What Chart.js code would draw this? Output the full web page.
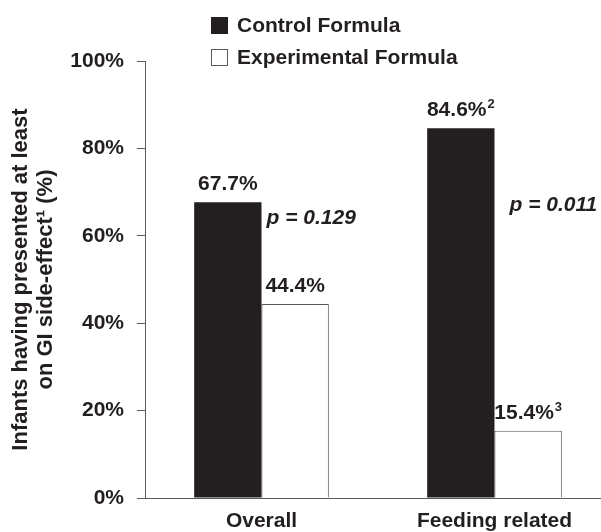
<!DOCTYPE html>
<html>
<head>
<meta charset="utf-8">
<script src="https://cdn.jsdelivr.net/npm/chart.js@4/dist/chart.umd.min.js"></script>
<style>
  html, body { margin: 0; padding: 0; background: #fff; overflow: hidden; }
  #wrap { width: 601px; height: 532px; overflow: hidden; }
  canvas { display: block; }
</style>
</head>
<body>
<div id="wrap"><canvas id="c" width="611" height="532"></canvas></div>
<script>
// Categories and series
const categories = ['Overall', 'Feeding related'];
const seriesNames = ['Control Formula', 'Experimental Formula'];
const controlValues = [67.7, 84.6];
const experimentalValues = [44.4, 15.4];
// Footnote markers printed after each bar's value
const controlNotes = ['', '2'];
const experimentalNotes = ['', '3'];
const pValues = ['0.129', '0.011'];
const yTicks = [0, 20, 40, 60, 80, 100];
const yTitle = ['Infants having presented at least', 'on GI side-effect¹ (%)'];

const INK = '#231f20';
const AXIS = '#5a5a5a';
const FONT = '"Liberation Sans", Arial, Helvetica, sans-serif';
const MAIN = 'bold 21px ' + FONT;
const SUP = 'bold 13px ' + FONT;

const overlay = {
  id: 'overlay',
  afterDatasetsDraw(chart) {
    const ctx = chart.ctx;
    const y = chart.scales.y;
    ctx.save();
    ctx.fillStyle = INK;
    ctx.textBaseline = 'alphabetic';
    ctx.textAlign = 'left';
    const notes = [controlNotes, experimentalNotes];
    // value labels above bars, with optional superscript marker
    chart.data.datasets.forEach((ds, di) => {
      const meta = chart.getDatasetMeta(di);
      meta.data.forEach((bar, i) => {
        const txt = ds.data[i].toFixed(1) + '%';
        const note = notes[di][i];
        ctx.font = MAIN;
        const w1 = ctx.measureText(txt).width;
        ctx.font = SUP;
        const w2 = note ? ctx.measureText(note).width + 1 : 0;
        const x0 = bar.x - (w1 + w2) / 2;
        const base = bar.y - 12;
        ctx.font = MAIN;
        ctx.fillText(txt, x0, base);
        if (note) {
          ctx.font = SUP;
          ctx.fillText(note, x0 + w1 + 1, base - 8);
        }
      });
    });
    // p-values beside each pair
    ctx.font = 'italic ' + MAIN;
    ctx.textBaseline = 'middle';
    const ctrl = chart.getDatasetMeta(0).data;
    const pLevels = [64, 67];
    const pOffsets = [5, 15];
    pValues.forEach((p, i) => {
      const b = ctrl[i];
      ctx.fillText('p = ' + p, b.x + b.width / 2 + pOffsets[i], y.getPixelForValue(pLevels[i]));
    });
    // legend
    ctx.font = MAIN;
    const lx = 211, ly = [25, 57];
    chart.data.datasets.forEach((ds, di) => {
      ctx.fillStyle = ds.backgroundColor;
      ctx.fillRect(lx, ly[di] - 8, 17, 17);
      ctx.strokeStyle = di === 0 ? INK : AXIS;
      ctx.lineWidth = 1;
      ctx.strokeRect(lx + 0.5, ly[di] - 7.5, 16, 16);
      ctx.fillStyle = INK;
      ctx.fillText(ds.label, lx + 26, ly[di] + 1);
    });
    ctx.restore();
  }
};

new Chart(document.getElementById('c'), {
  type: 'bar',
  data: {
    labels: categories,
    datasets: [
      {
        label: seriesNames[0],
        data: controlValues,
        backgroundColor: INK,
        borderColor: INK,
        borderWidth: 0,
        categoryPercentage: 0.578,
        barPercentage: 1.0
      },
      {
        label: seriesNames[1],
        data: experimentalValues,
        backgroundColor: '#ffffff',
        borderColor: AXIS,
        borderWidth: { top: 1, left: 1, right: 1, bottom: 0 },
        categoryPercentage: 0.578,
        barPercentage: 1.0
      }
    ]
  },
  options: {
    responsive: false,
    animation: false,
    layout: { padding: { top: 61, left: 0, right: 0, bottom: 0 } },
    plugins: { legend: { display: false }, tooltip: { enabled: false } },
    scales: {
      x: {
        grid: { display: false, drawTicks: false },
        border: { color: AXIS, width: 1 },
        ticks: { color: INK, font: { family: FONT, size: 21, weight: 'bold' }, padding: 11 },
        afterFit(s) { s.height = 34; }
      },
      y: {
        min: 0, max: 100,
        afterBuildTicks(s) { s.ticks = yTicks.map(v => ({ value: v })); },
        grid: { drawOnChartArea: false, drawTicks: true, tickLength: 8, color: AXIS },
        border: { color: AXIS, width: 1 },
        ticks: {
          color: INK, padding: 13,
          font: { family: FONT, size: 21, weight: 'bold' },
          callback: v => v + '%'
        },
        title: {
          display: true, text: yTitle, color: INK,
          font: { family: FONT, size: 22, weight: 'bold', lineHeight: 1.14 },
          padding: { top: 8, bottom: 10 }
        },
        afterFit(s) { s.width = 145; }
      }
    }
  },
  plugins: [overlay]
});
</script>
</body>
</html>
